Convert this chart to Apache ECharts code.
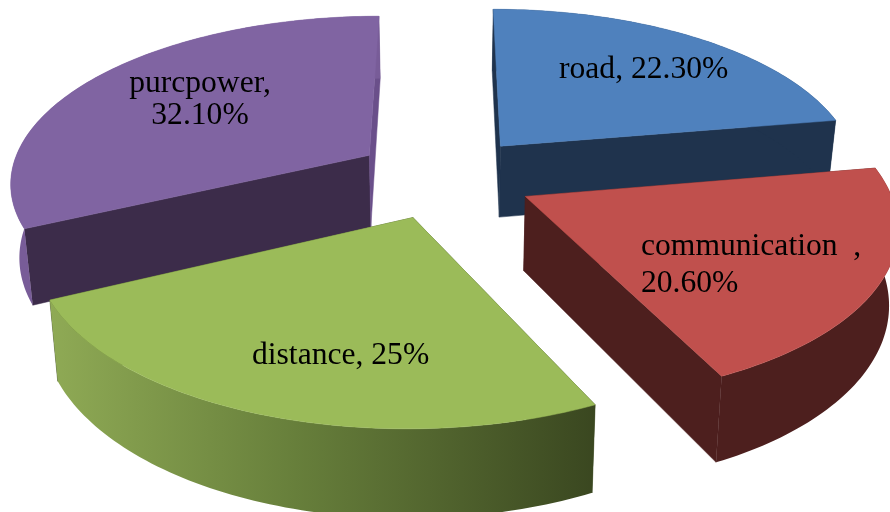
<!DOCTYPE html>
<html>
<head>
<meta charset="utf-8">
<style>html,body{margin:0;padding:0;background:#fff}#c{width:890px;height:512px}</style>
<script src="https://cdn.jsdelivr.net/npm/echarts@6/dist/echarts.min.js"></script>
</head>
<body>
<div id="c"></div>
<script>
// Data
const categories = ['road', 'communication  ', 'distance', 'purcpower'];
const values = [22.3, 20.6, 25, 32.1];
const percentLabels = ['22.30%', '20.60%', '25%', '32.10%'];

// Styles and layout (not data)
const topColors = ['#4F81BD', '#C0504D', '#9BBB59', '#8064A2'];
const startFace = ['#1F334D', '#4D1F1E', '#3D4A22', '#3C2C4A'];
const endFace = ['#1F334D', '#4D1F1E', '#3D4A22', '#6A4F8A'];
const wallFill = [
  '#1F334D', '#4D1F1E',
  {type:'linear',x:0,y:0,x2:1,y2:0,colorStops:[
    {offset:0,color:'#8FAA55'},{offset:.45,color:'#677F3B'},{offset:1,color:'#3A4720'}]},
  '#785C98'
];
const paintOrder = [1, 3, 2, 0];   // z-layer per slice (clockwise order)
const labelLayout = [
  {x:559, y:70,  lineHeight:36, breakLine:false},
  {x:641, y:265, lineHeight:37, breakLine:true},
  {x:252, y:356, lineHeight:36, breakLine:false},
  {x:129, y:100, lineHeight:32, breakLine:true, center:200}
];
const G = {cx:444, cy:177, rx:360, ry:166, p:0.15, explode:0.25, depth:73, shrink:0.98};

function renderSlice(params, api) {
  const i = params.dataIndex;
  const total = values.reduce((a,b)=>a+b,0);
  const before = values.slice(0,i).reduce((a,b)=>a+b,0);
  const a0 = before/total*2*Math.PI;
  const a1 = (before+api.value(0))/total*2*Math.PI;
  const mid = (a0+a1)/2;
  const ox = G.explode*Math.sin(mid), oy = -G.explode*Math.cos(mid);
  const proj = (X,Y,low) => {
    const s = 1/(1-G.p*Y);
    const k = low ? G.shrink : 1;
    return [G.cx + G.rx*X*s*k, G.cy + G.ry*Y*s + (low ? G.depth*s : 0)];
  };
  const rim = (a,low) => proj(ox+Math.sin(a), oy-Math.cos(a), low);
  const n = Math.max(8, Math.round((a1-a0)/0.02));
  const top = [], bot = [];
  for (let k=0;k<=n;k++){
    const a = a0+(a1-a0)*k/n;
    top.push(rim(a,false)); bot.push(rim(a,true));
  }
  const apexT = proj(ox,oy,false), apexB = proj(ox,oy,true);
  const base = paintOrder[i]*10;
  const poly = (points,fill,z,stroke) => ({type:'polygon',z2:base+z,silent:true,
    shape:{points}, style:{fill, stroke:stroke||fill, lineWidth:0.5}});
  const children = [
    poly([apexT, top[0], bot[0], apexB], startFace[i], 1),
    poly([apexT, top[n], bot[n], apexB], endFace[i], 1),
    poly(top.concat(bot.slice().reverse()), wallFill[i], 2, 'none'),
    poly([apexT].concat(top), topColors[i], 3)
  ];
  const L = labelLayout[i];
  const pct = percentLabels[i];
  const text = categories[i] + ',' + (L.breakLine ? '\n' : ' ') + pct;
  children.push({type:'text', z2:100, silent:true,
    style:{text, x: L.center || L.x, y:L.y, fill:'#000', align: L.center ? 'center' : 'left', verticalAlign:'middle',
      font:'31.6px "Liberation Serif"', lineHeight:L.lineHeight}});
  return {type:'group', children};
}

const chart = echarts.init(document.getElementById('c'), null, {renderer:'canvas'});
chart.setOption({
  animation:false,
  backgroundColor:'#fff',
  series:[{
    type:'custom',
    coordinateSystem:'none',
    silent:true,
    data: values.map((v,i)=>({name:categories[i], value:[v]})),
    renderItem: renderSlice
  }]
});
</script>
</body>
</html>
